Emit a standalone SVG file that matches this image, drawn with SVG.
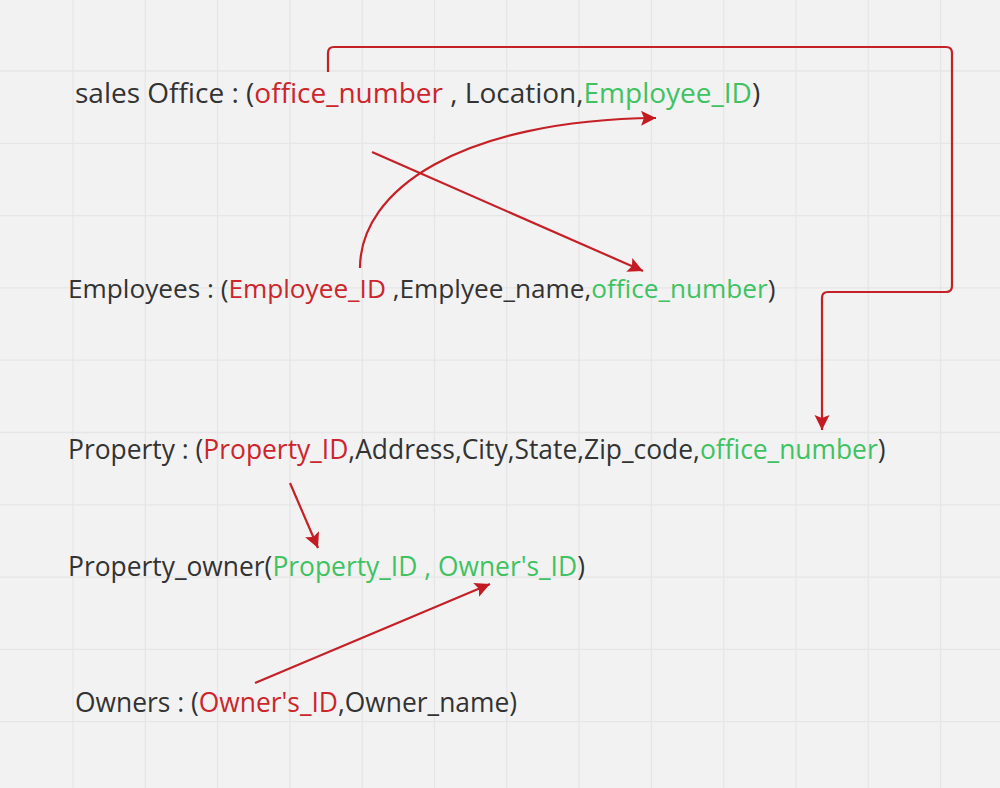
<svg xmlns="http://www.w3.org/2000/svg" width="1000" height="788" viewBox="0 0 1000 788">
<style>
.bg{fill:#f2f2f2}
.grid line{stroke:#e6e6e6;stroke-width:1.3}
text{font-family:"Open Sans","Noto Sans","Liberation Sans",sans-serif;font-size:26.4px;fill:#333333}
.pk{fill:#cc252b}
.fk{fill:#3ec262}
.conn path{fill:none;stroke:#c62027;stroke-width:2.2;stroke-linejoin:round}
</style>
<defs>
<marker id="ah" markerUnits="userSpaceOnUse" markerWidth="18" markerHeight="18" refX="15" refY="9" orient="auto">
<path d="M0,1.5 L15,9 L0,16.5 L3,9 z" fill="#c41a21"/>
</marker>
</defs>
<rect class="bg" x="0" y="0" width="1000" height="788"/>
<g class="grid">
<line x1="73" y1="0" x2="73" y2="788"/><line x1="145.3" y1="0" x2="145.3" y2="788"/><line x1="217.6" y1="0" x2="217.6" y2="788"/><line x1="289.9" y1="0" x2="289.9" y2="788"/><line x1="362.2" y1="0" x2="362.2" y2="788"/><line x1="434.5" y1="0" x2="434.5" y2="788"/><line x1="506.8" y1="0" x2="506.8" y2="788"/><line x1="579.1" y1="0" x2="579.1" y2="788"/><line x1="651.4" y1="0" x2="651.4" y2="788"/><line x1="723.7" y1="0" x2="723.7" y2="788"/><line x1="796" y1="0" x2="796" y2="788"/><line x1="868.3" y1="0" x2="868.3" y2="788"/><line x1="940.6" y1="0" x2="940.6" y2="788"/>
<line x1="0" y1="71" x2="1000" y2="71"/><line x1="0" y1="143.3" x2="1000" y2="143.3"/><line x1="0" y1="215.6" x2="1000" y2="215.6"/><line x1="0" y1="287.9" x2="1000" y2="287.9"/><line x1="0" y1="360.2" x2="1000" y2="360.2"/><line x1="0" y1="432.5" x2="1000" y2="432.5"/><line x1="0" y1="504.8" x2="1000" y2="504.8"/><line x1="0" y1="577.1" x2="1000" y2="577.1"/><line x1="0" y1="649.4" x2="1000" y2="649.4"/><line x1="0" y1="721.7" x2="1000" y2="721.7"/>
</g>
<g id="sales-office"><text x="75" y="103" style="font-size:28px">sales Office : (<tspan class="pk">office_number</tspan> , Location,<tspan class="fk">Employee_ID</tspan>)</text></g>
<g id="employees"><text x="68" y="298" style="font-size:26.2px">Employees : (<tspan class="pk">Employee_ID</tspan> ,Emplyee_name,<tspan class="fk">office_number</tspan>)</text></g>
<g id="property"><text x="68" y="459">Property : (<tspan class="pk">Property_ID</tspan>,Address,City,State,Zip_code,<tspan class="fk">office_number</tspan>)</text></g>
<g id="property-owner"><text x="68" y="576">Property_owner(<tspan class="fk">Property_ID , Owner's_ID</tspan>)</text></g>
<g id="owners"><text x="75" y="712">Owners : (<tspan class="pk">Owner's_ID</tspan>,Owner_name)</text></g>
<g class="conn">
<path d="M328,72 V53 Q328,47 334,47 H946 Q952,47 952,53 V286 Q952,292 946,292 H828 Q822,292 822,298 V430" marker-end="url(#ah)"/>
<path d="M372,152 L643,271" marker-end="url(#ah)"/>
<path d="M360,268 C360,190 460,120 656,118" marker-end="url(#ah)"/>
<path d="M290,483 L318,548" marker-end="url(#ah)"/>
<path d="M255,683 L490,584" marker-end="url(#ah)"/>
</g>
</svg>
